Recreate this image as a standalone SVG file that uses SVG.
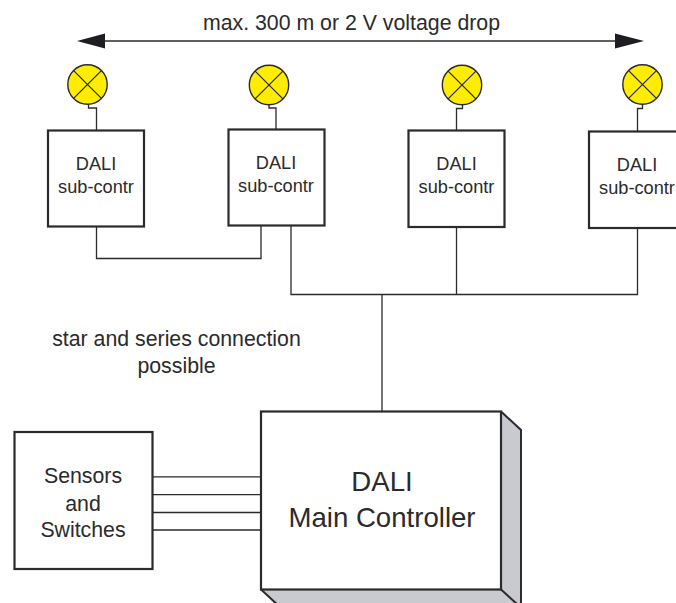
<svg xmlns="http://www.w3.org/2000/svg" width="676" height="603" viewBox="0 0 676 603">
<style>
text{font-family:"Liberation Sans",Arial,sans-serif;fill:#2b2a2c;text-anchor:middle}
.s{font-size:18.2px}.b{font-size:27.6px}.t{font-size:21.3px}
.box{fill:#fff;stroke:#2b2a2c;stroke-width:2.2}
.w{fill:none;stroke:#2b2a2c;stroke-width:1.3}
.l{fill:#ffed00;stroke:#2b2a2c;stroke-width:1.4}
.x{stroke:#2b2a2c;stroke-width:1.3}
</style>
<defs>
<g id="lamp"><circle class="l" r="19.7"/><path class="x" d="M-13.9-13.9L13.9 13.9M-13.9 13.9L13.9-13.9"/></g>
</defs>
<g id="connectors">
<path class="w" d="M96.500 130V108H88.500V104"/>
<path class="w" d="M276 129V108H269V105"/>
<path class="w" d="M456.500 130V108.500H462.500V105"/>
<path class="w" d="M637.500 131V108.500H642.500V104.500"/>
<path class="w" d="M96.500 226V258.500H261V226"/>
<path class="w" d="M291 226V294.500H637.500V228"/>
<path class="w" d="M456.500 227V294.500"/>
<path class="w" d="M382 294.500V411"/>
<path class="w" d="M152 476.800H261M152 494.700H261M152 512.500H261M152 530H261"/>
<path d="M105 41H616" fill="none" stroke="#2b2a2c" stroke-width="1.5"/>
<path d="M77 41L105 33.500V48.500Z" fill="#1d1d22"/>
<path d="M644 41L615 33.500V48.500Z" fill="#1d1d22"/>
</g>
<g id="lamp1"><use href="#lamp" x="87.500" y="84.500"/></g>
<g id="lamp2"><use href="#lamp" x="269" y="85"/></g>
<g id="lamp3"><use href="#lamp" x="462" y="85"/></g>
<g id="lamp4"><use href="#lamp" x="642.500" y="84.500"/></g>
<g id="sub1"><rect class="box" x="48" y="130.500" width="96" height="96"/><text class="s" x="96" y="170">DALI</text><text class="s" x="96" y="193">sub-contr</text></g>
<g id="sub2"><rect class="box" x="228.500" y="129.500" width="96" height="96"/><text class="s" x="276" y="169">DALI</text><text class="s" x="276" y="192">sub-contr</text></g>
<g id="sub3"><rect class="box" x="408.500" y="130.500" width="96" height="96.500"/><text class="s" x="456.500" y="170">DALI</text><text class="s" x="456.500" y="193">sub-contr</text></g>
<g id="sub4"><rect class="box" x="589" y="131.500" width="96" height="96.500"/><text class="s" x="637" y="171">DALI</text><text class="s" x="637" y="194">sub-contr</text></g>
<g id="main">
<path d="M501 411.500L521 430V610H280L261 589.500H501Z" fill="#c9cad0"/>
<path d="M501 411.500L521 430V610M501 589.500L518 605M261 589.500L279 606" fill="none" stroke="#2b2a2c" stroke-width="2"/>
<rect class="box" x="261" y="411.500" width="240" height="178"/>
<text class="b" x="382" y="490.500">DALI</text><text class="b" x="382" y="526.500">Main Controller</text>
</g>
<g id="sensors"><rect class="box" x="14.500" y="432" width="138" height="137"/><text class="t" x="83" y="483">Sensors</text><text class="t" x="83" y="510.500">and</text><text class="t" x="83" y="537">Switches</text></g>
<text class="t" x="351.500" y="29.500">max. 300 m or 2 V voltage drop</text>
<text class="t" x="176.500" y="346">star and series connection</text>
<text class="t" x="176.500" y="373">possible</text>
</svg>
